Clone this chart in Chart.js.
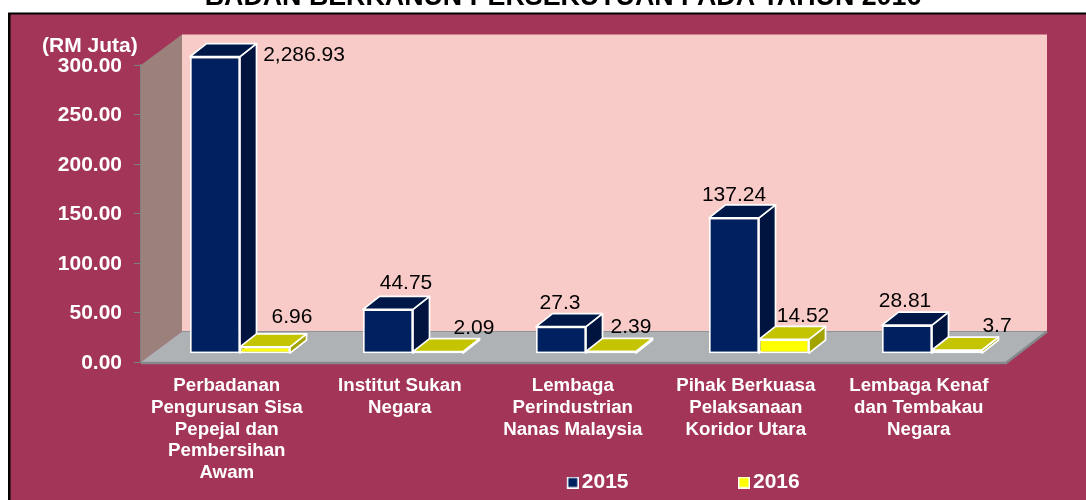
<!DOCTYPE html>
<html>
<head>
<meta charset="utf-8">
<style>html,body{margin:0;padding:0;background:#fff;overflow:hidden}canvas{display:block}</style>
<script src="https://cdn.jsdelivr.net/npm/chart.js@4"></script>
</head>
<body>
<canvas id="c" width="1086" height="500"></canvas>
<script>
const titleText = 'BADAN BERKANUN PERSEKUTUAN PADA TAHUN 2016';
const unitText = '(RM Juta)';
const categories = [
  ['Perbadanan','Pengurusan Sisa','Pepejal dan','Pembersihan','Awam'],
  ['Institut Sukan','Negara'],
  ['Lembaga','Perindustrian','Nanas Malaysia'],
  ['Pihak Berkuasa','Pelaksanaan','Koridor Utara'],
  ['Lembaga Kenaf','dan Tembakau','Negara']
];
const values2015 = [2286.93, 44.75, 27.3, 137.24, 28.81];
const values2016 = [6.96, 2.09, 2.39, 14.52, 3.7];
const axisMax = 300;
const axisStep = 50;

const labelDx2015 = [89, 18, -1, 0, -2];
const labelDy2015 = [-1.5, -26.5, -23.5, -22.5, -24];
const labelDx2016 = [27, 36, 20, 19, 40];
const labelDy2016 = [-30, -23.5, -24, -23.5, -24];

const barColors = {
  2015: {front:'#00205F', side:'#00143F', top:'#001848'},
  2016: {front:'#FFFF00', side:'#A3A300', top:'#C4C400'}
};
const barShift = {x:12.5, y:-8.3};
const barDepth = {x:16.5, y:13};
const wallDepth = {x:41, y:30.5};
const FONT = '"Liberation Sans", Arial, sans-serif';

function swatch(color){
  const s = document.createElement('canvas');
  s.width = 16; s.height = 12;
  const g = s.getContext('2d');
  g.fillStyle = '#fff'; g.fillRect(4,0,12,12);
  g.fillStyle = color; g.fillRect(5.5,1.5,9,9);
  return s;
}
function poly(ctx, pts, fill, stroke, lw){
  ctx.beginPath();
  pts.forEach((p,i)=> i ? ctx.lineTo(p[0],p[1]) : ctx.moveTo(p[0],p[1]));
  ctx.closePath();
  if (fill){ ctx.fillStyle = fill; ctx.fill(); }
  if (stroke){ ctx.strokeStyle = stroke; ctx.lineWidth = lw; ctx.lineJoin='round'; ctx.stroke(); }
}
function fmt(v){
  return v.toLocaleString('en-US',{maximumFractionDigits:2});
}

const scene = {
  id:'scene',
  afterLayout(chart){
    const t = chart.titleBlock;
    t.top = -2.3 - t.height/2;
    t.left += 120;
    const l = chart.legend;
    const p = l.options.labels.padding;
    l.top = 472 - p;
    l.left += 182; l.right += 182;
  },
  beforeDraw(chart){
    const ctx = chart.ctx;
    ctx.save();
    ctx.fillStyle = '#fff'; ctx.fillRect(0,0,chart.width,chart.height);
    ctx.fillStyle = '#000'; ctx.fillRect(8,12.5,chart.width,chart.height);
    ctx.fillStyle = '#A33558'; ctx.fillRect(10.5,14.5,chart.width,chart.height);
    ctx.restore();
  },
  beforeDatasetsDraw(chart){
    const ctx = chart.ctx, a = chart.chartArea;
    const L=a.left, R=a.right, T=a.top, B=a.bottom, dx=wallDepth.x, dy=wallDepth.y;
    ctx.save();
    poly(ctx, [[L+dx,T-dy],[R+dx,T-dy],[R+dx,B-dy],[L+dx,B-dy]], '#F9CBC8');
    poly(ctx, [[L,T],[L+dx,T-dy],[L+dx,B-dy],[L,B]], '#9B807B');
    poly(ctx, [[L,B],[R,B],[R+dx,B-dy],[L+dx,B-dy]], '#AEB2B5');
    ctx.strokeStyle = '#8F9396'; ctx.lineWidth = 1;
    ctx.beginPath(); ctx.moveTo(L+dx,B-dy); ctx.lineTo(R+dx,B-dy); ctx.stroke();
    ctx.strokeStyle = '#85898C'; ctx.lineWidth = 2.5;
    ctx.beginPath(); ctx.moveTo(L,B+1); ctx.lineTo(R,B+1); ctx.lineTo(R+dx,B-dy); ctx.stroke();
    [2015,2016].forEach((yr,ds)=>{
      chart.getDatasetMeta(ds).data.forEach(el=>{
        const p = el.getProps(['x','y','base','width'],true);
        const x0 = p.x - p.width/2 + barShift.x, x1 = p.x + p.width/2 + barShift.x;
        const y0 = p.y + barShift.y, y1 = p.base + barShift.y;
        const c = barColors[yr];
        poly(ctx, [[x1,y0],[x1+barDepth.x,y0-barDepth.y],[x1+barDepth.x,y1-barDepth.y],[x1,y1]], c.side, '#fff', 1.7);
        poly(ctx, [[x0,y0],[x0+barDepth.x,y0-barDepth.y],[x1+barDepth.x,y0-barDepth.y],[x1,y0]], c.top, '#fff', 1.7);
      });
    });
    ctx.restore();
  },
  beforeDatasetDraw(chart){
    chart.ctx.save();
    chart.ctx.translate(barShift.x, barShift.y);
  },
  afterDatasetDraw(chart){
    chart.ctx.restore();
  },
  afterDatasetsDraw(chart){
    const ctx = chart.ctx;
    ctx.save();
    ctx.fillStyle = '#000';
    ctx.font = '21px ' + FONT;
    ctx.textAlign = 'center';
    ctx.textBaseline = 'middle';
    [[values2015,labelDx2015,labelDy2015],[values2016,labelDx2016,labelDy2016]].forEach((set,ds)=>{
      chart.getDatasetMeta(ds).data.forEach((el,i)=>{
        const p = el.getProps(['x','y'],true);
        ctx.fillText(fmt(set[0][i]), p.x+barShift.x+set[1][i], p.y+barShift.y+set[2][i]);
      });
    });
    ctx.fillStyle = '#fff';
    ctx.font = 'bold 21px ' + FONT;
    ctx.textAlign = 'left';
    ctx.fillText(unitText, 42, 46);
    ctx.restore();
  }
};

new Chart(document.getElementById('c'), {
  type:'bar',
  plugins:[scene],
  data:{
    labels:categories,
    datasets:[
      {label:'2015', data:values2015.map(v=>Math.min(v,axisMax)), backgroundColor:barColors[2015].front, borderColor:'#fff', borderWidth:1.7, borderSkipped:false, clip:false},
      {label:'2016', data:values2016.map(v=>Math.min(v,axisMax)), backgroundColor:barColors[2016].front, borderColor:'#fff', borderWidth:1.7, borderSkipped:false, clip:false}
    ]
  },
  options:{
    responsive:false,
    animation:false,
    events:[],
    categoryPercentage:0.578,
    barPercentage:1,
    layout:{padding:{left:0,right:80,top:32.84,bottom:0}},
    plugins:{
      tooltip:{enabled:false},
      title:{display:true,text:titleText,color:'#000',padding:0,font:{family:FONT,size:26.8,weight:'bold'}},
      legend:{
        display:true,position:'bottom',maxHeight:10,
        labels:{
          color:'#fff',font:{family:FONT,size:21,weight:'bold'},
          usePointStyle:true,pointStyleWidth:1,padding:113,
          generateLabels(chart){
            return Chart.defaults.plugins.legend.labels.generateLabels(chart).map((it,i)=>({...it,pointStyle:swatch(chart.data.datasets[i].backgroundColor)}));
          }
        }
      }
    },
    scales:{
      x:{
        afterFit(s){ s.height = 128; },
        grid:{display:false,drawTicks:false},
        border:{display:false},
        ticks:{color:'#fff',padding:13,labelOffset:-0.7,autoSkip:false,maxRotation:0,font:{family:FONT,size:18.7,weight:'bold',lineHeight:1.165}}
      },
      y:{
        min:0,max:axisMax,
        afterFit(s){ s.width = 141; },
        grid:{drawOnChartArea:false,drawTicks:true,tickLength:7,color:'#808080'},
        border:{display:true,color:'#808080',width:1.5},
        ticks:{stepSize:axisStep,color:'#fff',padding:12,labelOffset:1,font:{family:FONT,size:21,weight:'bold'},callback:v=>v.toFixed(2)}
      }
    }
  }
});
</script>
</body>
</html>
